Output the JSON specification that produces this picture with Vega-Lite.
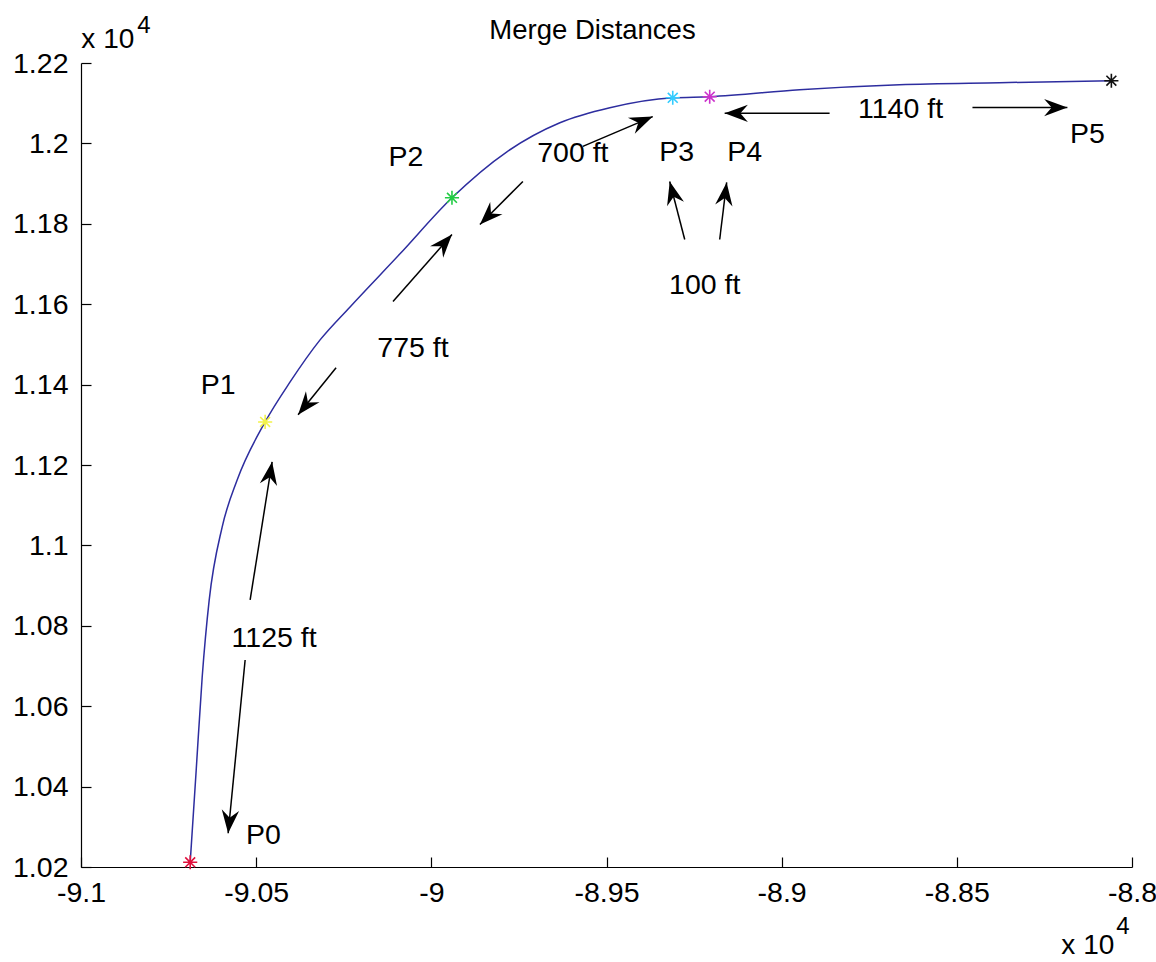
{
  "$schema": "https://vega.github.io/schema/vega-lite/v6.json",
  "autosize": {"type": "none"},
  "padding": {"left": 81, "top": 63, "right": 24, "bottom": 95},
  "width": 1051,
  "height": 804,
  "background": "white",
  "title": {
    "text": "Merge Distances",
    "font": "Liberation Sans",
    "fontSize": 27.5,
    "fontWeight": "normal",
    "color": "black",
    "anchor": "middle",
    "frame": "group",
    "baseline": "alphabetic",
    "dx": -14,
    "offset": -53
  },
  "datasets": {
    "curve": [
      {"x": -9.06883, "y": 1.02117},
      {"x": -9.06712, "y": 1.04407},
      {"x": -9.06541, "y": 1.06722},
      {"x": -9.06341, "y": 1.08639},
      {"x": -9.05971, "y": 1.10456},
      {"x": -9.05543, "y": 1.11626},
      {"x": -9.04744, "y": 1.13071},
      {"x": -9.04031, "y": 1.14066},
      {"x": -9.03176, "y": 1.15112},
      {"x": -9.0232, "y": 1.15933},
      {"x": -9.00894, "y": 1.17253},
      {"x": -8.99411, "y": 1.18647},
      {"x": -8.97843, "y": 1.19792},
      {"x": -8.96331, "y": 1.20514},
      {"x": -8.94905, "y": 1.20887},
      {"x": -8.93109, "y": 1.21135},
      {"x": -8.92054, "y": 1.21161},
      {"x": -8.89487, "y": 1.21335},
      {"x": -8.86636, "y": 1.2146},
      {"x": -8.83784, "y": 1.2151},
      {"x": -8.80589, "y": 1.21559}
    ],
    "markers": [
      {"point": "P0", "x": -9.06883, "y": 1.02117},
      {"point": "P1", "x": -9.04744, "y": 1.13071},
      {"point": "P2", "x": -8.99411, "y": 1.18647},
      {"point": "P3", "x": -8.93109, "y": 1.21135},
      {"point": "P4", "x": -8.92054, "y": 1.21161},
      {"point": "P5", "x": -8.80589, "y": 1.21559}
    ],
    "arrows": [
      {"x": -9.05172, "y": 1.08643, "x2": -9.04545, "y2": 1.1208},
      {"x": -9.05315, "y": 1.07148, "x2": -9.058, "y2": 1.02839},
      {"x": -9.02719, "y": 1.14421, "x2": -9.03803, "y2": 1.1325},
      {"x": -9.01094, "y": 1.16065, "x2": -8.99411, "y2": 1.17733},
      {"x": -8.97387, "y": 1.19053, "x2": -8.98613, "y2": 1.17982},
      {"x": -8.95676, "y": 1.19925, "x2": -8.9368, "y2": 1.20667},
      {"x": -8.92767, "y": 1.17609, "x2": -8.93196, "y2": 1.19053},
      {"x": -8.91769, "y": 1.17609, "x2": -8.9157, "y2": 1.19029},
      {"x": -8.88632, "y": 1.20747, "x2": -8.91627, "y2": 1.20747},
      {"x": -8.84554, "y": 1.20892, "x2": -8.81845, "y2": 1.2089}
    ],
    "labels": [
      {"text": "P0", "x": -9.04795, "y": 1.0279},
      {"text": "P1", "x": -9.06085, "y": 1.13998},
      {"text": "P2", "x": -9.00724, "y": 1.19651},
      {"text": "P3", "x": -8.92995, "y": 1.19776},
      {"text": "P4", "x": -8.91056, "y": 1.19776},
      {"text": "P5", "x": -8.81274, "y": 1.20224},
      {"text": "1125 ft", "x": -9.04488, "y": 1.07696},
      {"text": "775 ft", "x": -9.00523, "y": 1.14919},
      {"text": "700 ft", "x": -8.95961, "y": 1.19768},
      {"text": "100 ft", "x": -8.92196, "y": 1.16484},
      {"text": "1140 ft", "x": -8.86607, "y": 1.20865}
    ],
    "exponent": [
      {"text": "x 10", "part": "base", "x": -9.0999, "y": 1.22381},
      {"text": "4", "part": "power", "x": -9.08394, "y": 1.22754},
      {"text": "x 10", "part": "base", "x": -8.82016, "y": 0.99827},
      {"text": "4", "part": "power", "x": -8.80448, "y": 1.00325}
    ]
  },
  "encoding": {
    "x": {
      "field": "x",
      "type": "quantitative",
      "scale": {"domain": [-9.1, -8.8], "nice": false, "zero": false},
      "axis": {
        "values": [-9.1, -9.05, -9, -8.95, -8.9, -8.85, -8.8],
        "labelExpr": "'' + round(datum.value * 100) / 100",
        "title": null,
        "grid": false,
        "tickSize": -10,
        "labelPadding": 21,
        "labelDx": -6,
        "labelFlush": false,
        "labelOverlap": false
      }
    },
    "y": {
      "field": "y",
      "type": "quantitative",
      "scale": {"domain": [1.02, 1.22], "nice": false, "zero": false},
      "axis": {
        "values": [1.02, 1.04, 1.06, 1.08, 1.1, 1.12, 1.14, 1.16, 1.18, 1.2, 1.22],
        "labelExpr": "'' + round(datum.value * 100) / 100",
        "title": null,
        "grid": false,
        "tickSize": -10,
        "labelPadding": 23,
        "labelFlush": false,
        "labelOverlap": false
      }
    }
  },
  "layer": [
    {
      "data": {"name": "curve"},
      "mark": {"type": "line", "color": "#2d2d9f", "strokeWidth": 1.5, "interpolate": "monotone"}
    },
    {
      "data": {"name": "arrows"},
      "mark": {"type": "rule", "color": "black", "strokeWidth": 1.5},
      "encoding": {
        "x2": {"field": "x2"},
        "y2": {"field": "y2"}
      }
    },
    {
      "data": {"name": "arrows"},
      "transform": [
        {"calculate": "atan2((datum.x2 - datum.x) * 3506.6, (datum.y2 - datum.y) * 4017) * 180 / PI", "as": "angle"}
      ],
      "mark": {
        "type": "point",
        "shape": "M0,0L0.75,2L0,1.35L-0.75,2Z",
        "filled": true,
        "color": "black",
        "opacity": 1,
        "size": 540
      },
      "encoding": {
        "x": {"field": "x2", "type": "quantitative"},
        "y": {"field": "y2", "type": "quantitative"},
        "angle": {"field": "angle", "type": "quantitative", "scale": null}
      }
    },
    {
      "data": {"name": "markers"},
      "mark": {
        "type": "point",
        "shape": "M-1,0L1,0M0,-1L0,1M-0.7,-0.7L0.7,0.7M-0.7,0.7L0.7,-0.7",
        "filled": false,
        "strokeWidth": 1.6,
        "opacity": 1,
        "size": 200
      },
      "encoding": {
        "stroke": {
          "field": "point",
          "type": "nominal",
          "scale": {
            "domain": ["P0", "P1", "P2", "P3", "P4", "P5"],
            "range": ["#e0103c", "#f2f24a", "#22cc44", "#33ccff", "#cc33cc", "#111111"]
          },
          "legend": null
        }
      }
    },
    {
      "data": {"name": "labels"},
      "mark": {
        "type": "text",
        "font": "Liberation Sans",
        "fontSize": 28.5,
        "color": "black",
        "align": "center",
        "baseline": "middle"
      },
      "encoding": {
        "text": {"field": "text"}
      }
    },
    {
      "data": {"name": "exponent"},
      "mark": {
        "type": "text",
        "font": "Liberation Sans",
        "color": "black",
        "align": "left",
        "baseline": "alphabetic"
      },
      "encoding": {
        "text": {"field": "text"},
        "size": {
          "field": "part",
          "type": "nominal",
          "scale": {"domain": ["base", "power"], "range": [28, 24]},
          "legend": null
        }
      }
    }
  ],
  "config": {
    "view": {"stroke": null},
    "axis": {
      "labelFont": "Liberation Sans",
      "labelFontSize": 28.5,
      "labelColor": "black",
      "domainColor": "black",
      "domainWidth": 1.2,
      "tickColor": "black",
      "tickWidth": 1.2
    }
  }
}
